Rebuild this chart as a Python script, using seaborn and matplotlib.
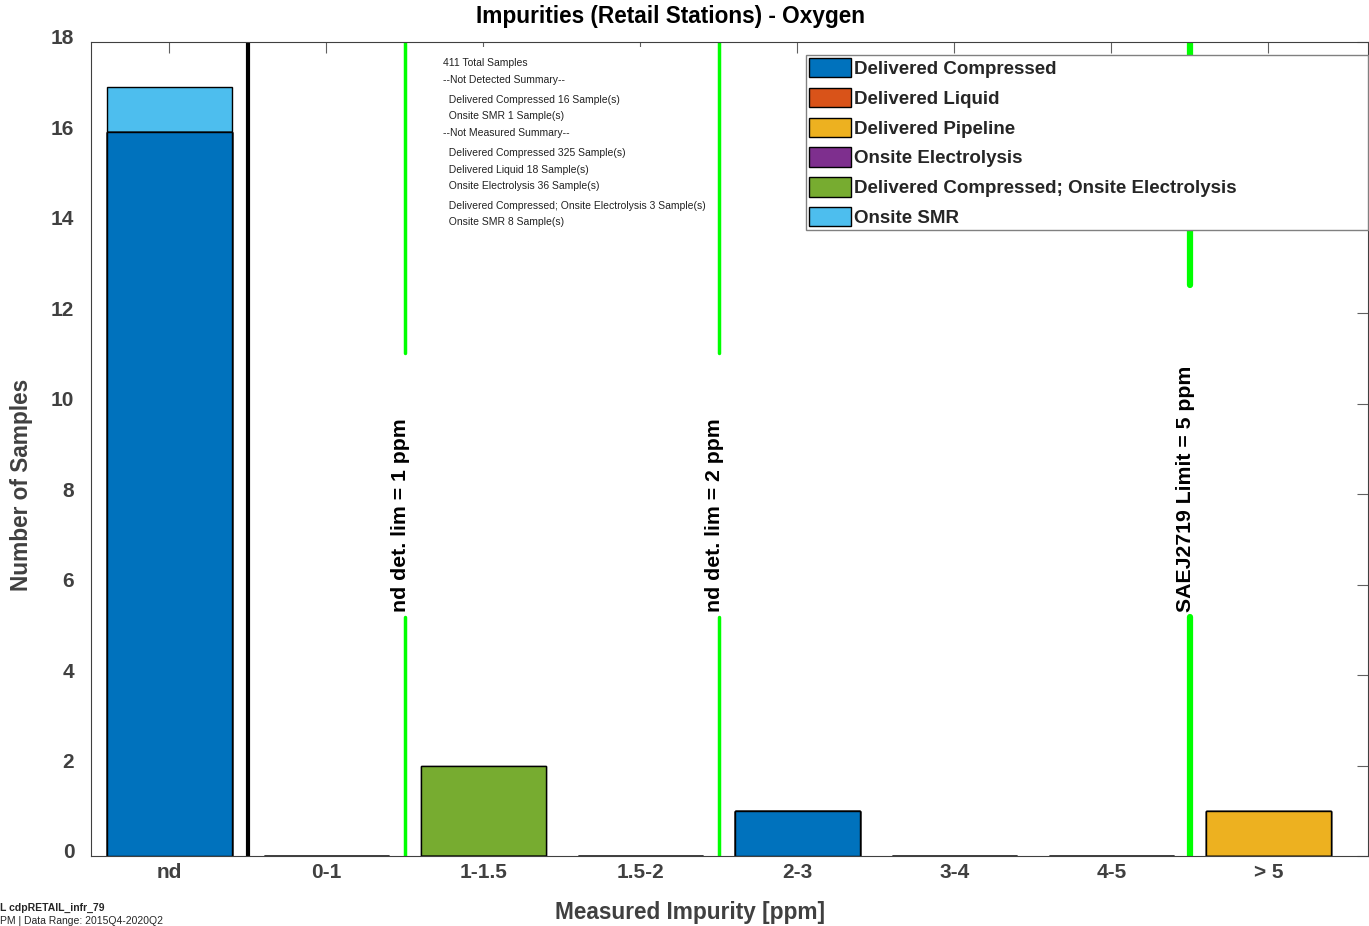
import numpy as np
import pandas as pd
import matplotlib
matplotlib.use("Agg")
import matplotlib.pyplot as plt
import matplotlib.transforms as mtransforms
from matplotlib.patches import Patch
import seaborn as sns

# categories on the x axis
categories = ["nd", "0-1", "1-1.5", "1.5-2", "2-3", "3-4", "4-5", "> 5"]

# sample counts per supply type (stacked in this order)
series_names = ["Delivered Compressed", "Delivered Liquid", "Delivered Pipeline",
                "Onsite Electrolysis", "Delivered Compressed; Onsite Electrolysis",
                "Onsite SMR"]
delivered_compressed = [16, 0, 0, 0, 1, 0, 0, 0]
delivered_liquid = [0, 0, 0, 0, 0, 0, 0, 0]
delivered_pipeline = [0, 0, 0, 0, 0, 0, 0, 1]
onsite_electrolysis = [0, 0, 0, 0, 0, 0, 0, 0]
dc_onsite_electrolysis = [0, 0, 2, 0, 0, 0, 0, 0]
onsite_smr = [1, 0, 0, 0, 0, 0, 0, 0]
series_colors = ["#0072BD", "#D95319", "#EDB120", "#7E2F8E", "#77AC30", "#4DBEEE"]

summary_lines = ["411 Total Samples", "--Not Detected Summary--",
                 "  Delivered Compressed 16 Sample(s)", "  Onsite SMR 1 Sample(s)",
                 "--Not Measured Summary--",
                 "  Delivered Compressed 325 Sample(s)", "  Delivered Liquid 18 Sample(s)",
                 "  Onsite Electrolysis 36 Sample(s)",
                 "  Delivered Compressed; Onsite Electrolysis 3 Sample(s)",
                 "  Onsite SMR 8 Sample(s)"]

sns.set_style("white")
plt.rcParams['font.family'] = ['Liberation Sans', 'DejaVu Sans']

W, H = 1369, 926
fig = plt.figure(figsize=(W / 100, H / 100), dpi=100)
ax = fig.add_axes([91 / W, (H - 856) / H, (1368 - 91) / W, (856 - 42) / H])

all_series = [delivered_compressed, delivered_liquid, delivered_pipeline,
              onsite_electrolysis, dc_onsite_electrolysis, onsite_smr]
cum = np.cumsum(np.array(all_series), axis=0)

# stacked bars: draw the cumulative totals from the top series down
for i in range(len(all_series) - 1, -1, -1):
    df = pd.DataFrame({"cat": categories, "val": cum[i]})
    sns.barplot(data=df, x="cat", y="val", order=categories, color=series_colors[i],
                saturation=1, edgecolor="black", linewidth=1, width=0.8, ax=ax)

gray = "#404040"
ax.set_xlim(-0.5, 7.635)
ax.set_ylim(0, 18)
ax.set_yticks(range(0, 19, 2))
ax.tick_params(axis="both", direction="in", length=8, width=0.8, color="#606060",
               top=True, right=True, labelsize=15, labelcolor=gray)
ax.tick_params(axis="y", pad=12)
ax.tick_params(axis="x", pad=5)
up = mtransforms.ScaledTranslation(0, 5 / 100, fig.dpi_scale_trans)
for lab in ax.get_yticklabels():
    lab.set_fontweight("bold")
    lab.set_transform(lab.get_transform() + up)
for lab in ax.get_xticklabels():
    lab.set_fontweight("bold")
for s in ax.spines.values():
    s.set_color("#404040")
    s.set_linewidth(0.8)

ax.set_xlabel("")
ax.set_ylabel("")
fig.text(690 / W, 1 - 912 / H, "Measured Impurity [ppm]", ha="center", va="center",
         fontsize=16.3, fontweight="bold", color=gray)
fig.text(22 / W, 1 - 485 / H, "Number of Samples", ha="center", va="center",
         rotation=90, fontsize=16.3, fontweight="bold", color=gray)
fig.text(670 / W, 1 - 16 / H, "Impurities (Retail Stations) - Oxygen", ha="center",
         va="center", fontsize=16.3, fontweight="bold", color="black")

# reference lines
ax.axvline(0.5, color="black", linewidth=3)
for xv, gap_top, lw in [(1.5, 11.12, 2.5), (3.5, 11.12, 2.5), (6.5, 12.63, 4.5)]:
    ax.axvline(xv, ymin=0, ymax=5.28 / 18, color="#00FF00", linewidth=lw)
    ax.axvline(xv, ymin=gap_top / 18, ymax=1, color="#00FF00", linewidth=lw)

for xv, txt in [(1.5, "nd det. lim = 1 ppm"), (3.5, "nd det. lim = 2 ppm"),
                (6.5, "SAEJ2719 Limit = 5 ppm")]:
    ax.text(xv + 0.03, 5.4, txt, rotation=90, ha="right", va="bottom",
            fontsize=15.3, fontweight="bold", color="black")

# summary text box
ax.add_patch(plt.Rectangle((1.72, 13.9), 3.5 - 1.72 - 0.02, 4.0, facecolor="white",
                           edgecolor="none", zorder=3))
ys = [63, 80, 100, 116, 133, 153, 170, 186, 206, 222]
for yy, line in zip(ys, summary_lines):
    fig.text(443 / W, 1 - yy / H, line, ha="left", va="center", fontsize=7.5,
             color="#222222", zorder=5)

handles = [Patch(facecolor=c, edgecolor="black", label=n)
           for c, n in zip(series_colors, series_names)]
leg = ax.legend(handles=handles, loc="upper left",
                bbox_to_anchor=((806 - 91) / 1277, 1 - 13 / 814, (1368 - 806) / 1277, 0),
                mode="expand", prop={"weight": "bold", "size": 13.5}, frameon=True,
                fancybox=False, framealpha=1, handlelength=2.25, handleheight=1.2,
                handletextpad=0.15, labelspacing=0.53, borderpad=0.15, borderaxespad=0.0)
leg.get_frame().set_edgecolor("#808080")
leg.get_frame().set_linewidth(1)
leg.set_zorder(6)

fig.text(0, 1 - 908 / H, "L cdpRETAIL_infr_79", ha="left", va="center", fontsize=7.5,
         fontweight="bold")
fig.text(0, 1 - 921 / H, "PM | Data Range: 2015Q4-2020Q2", ha="left", va="center",
         fontsize=7.5)

fig.savefig("out.png", dpi=100)
